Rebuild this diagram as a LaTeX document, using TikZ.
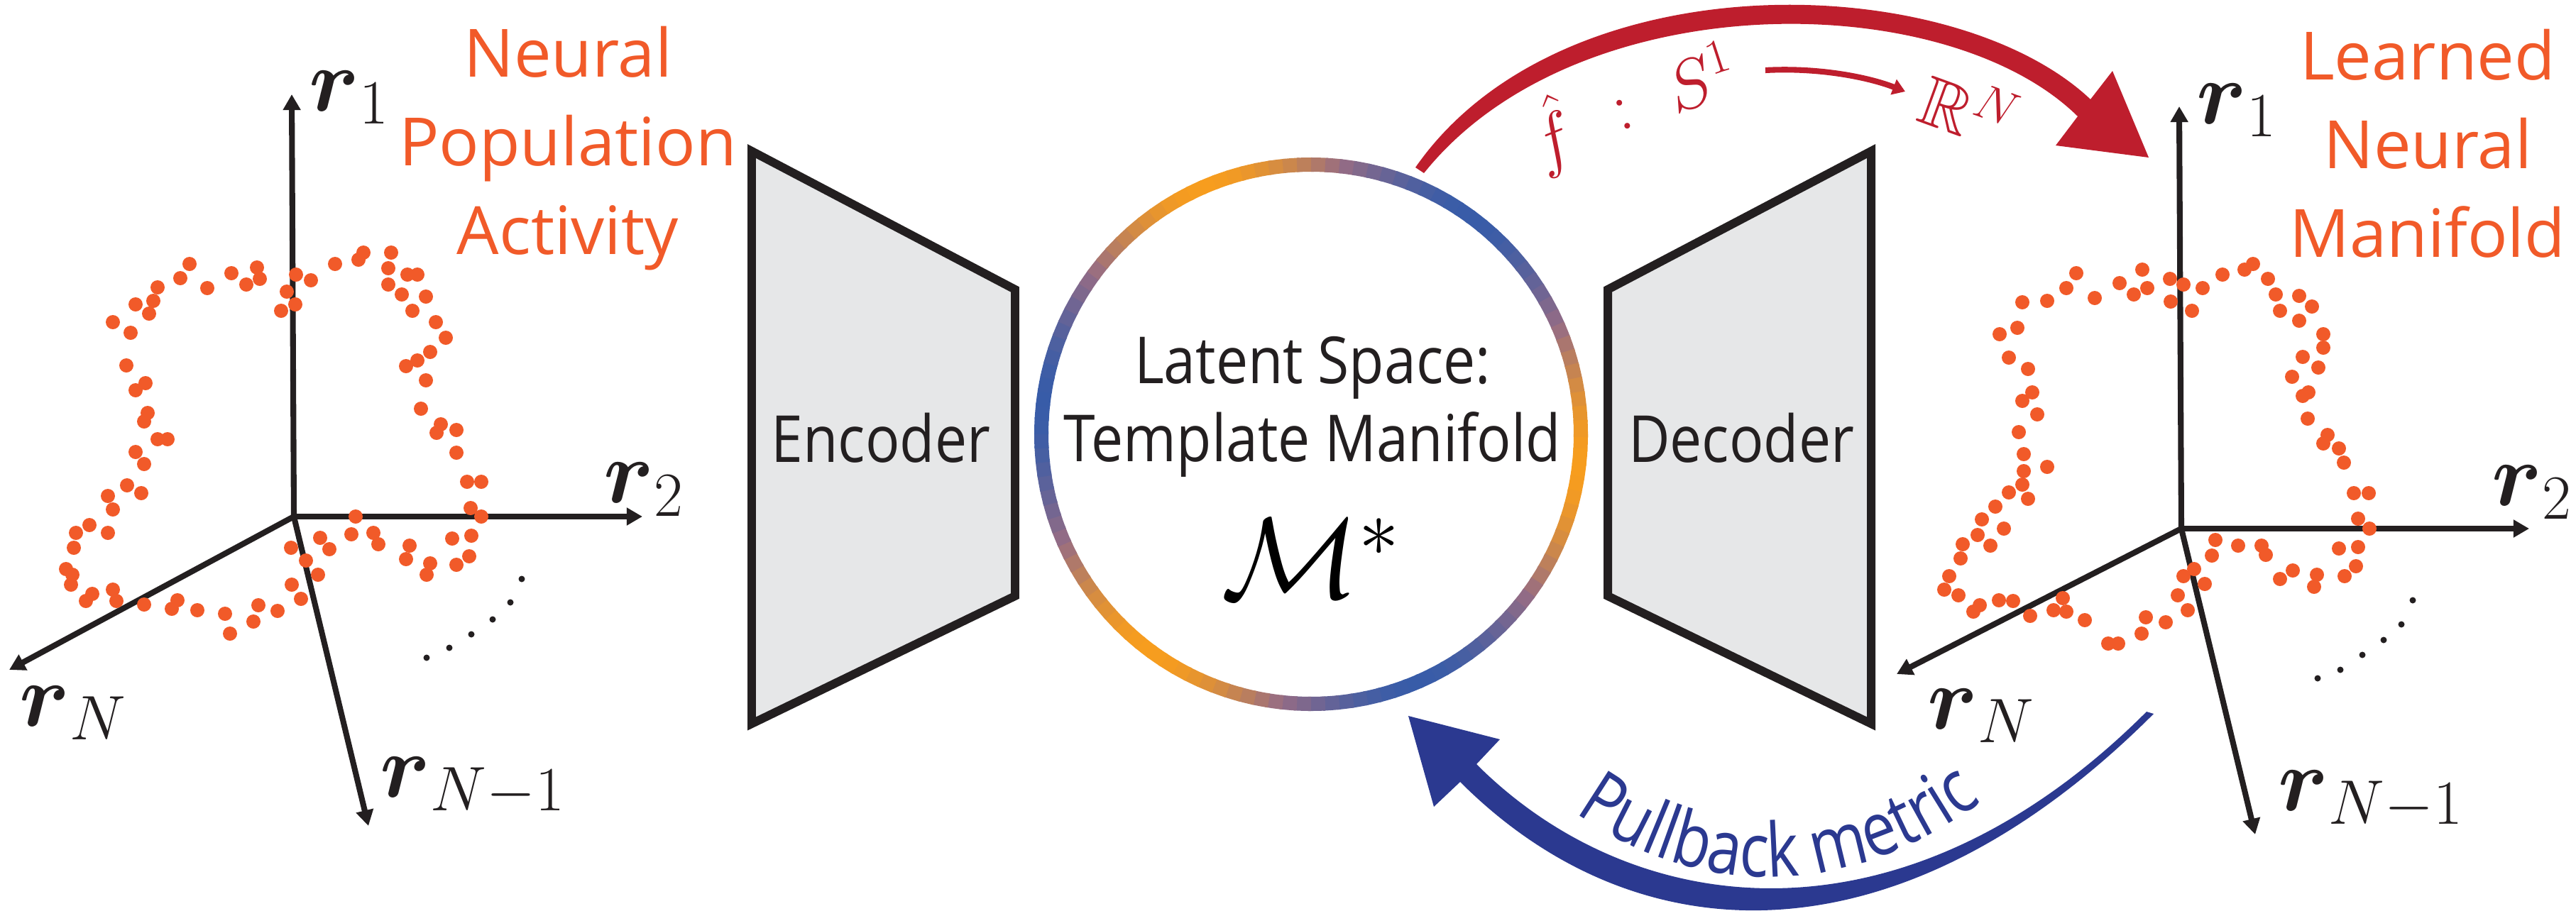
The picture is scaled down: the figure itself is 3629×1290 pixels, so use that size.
\RequirePackage{fix-cm}
\documentclass[tikz,border=0pt]{standalone}
\usepackage{amsmath,amssymb}
\usepackage[no-math]{fontspec}
\newfontfamily\labelfont{Open Sans}
\newfontfamily\condfont[FakeStretch=0.88]{Open Sans}
\newfontfamily\narrowfont[FakeStretch=0.82]{Open Sans}
\usetikzlibrary{arrows.meta}
\usetikzlibrary{calc,decorations.text}

\definecolor{ink}{RGB}{35,31,32}
\definecolor{boxgray}{RGB}{230,231,232}
\definecolor{dotorange}{RGB}{241,90,41}
\definecolor{arrred}{RGB}{190,30,45}
\definecolor{arrblue}{RGB}{43,57,144}
\definecolor{ringorange}{RGB}{247,157,30}
\definecolor{ringblue}{RGB}{56,92,168}
\definecolor{ringmauve}{RGB}{150,108,132}

\begin{document}
\begin{tikzpicture}[x=0.01cm,y=-0.01cm,
  axis/.style={draw=ink, line width=2.3pt, ->, >={Triangle[length=6.3pt,width=6.8pt]}},
  encbox/.style={draw=ink, fill=boxgray, line width=3.4pt},
  rlbl/.style={inner sep=0, anchor=base west, text=ink, font=\fontsize{36}{40}\selectfont},
  orlbl/.style={inner sep=0, anchor=north, align=center, text=dotorange, font=\labelfont\fontsize{26.7}{35.6}\selectfont},
  boxtxt/.style={inner sep=0, anchor=base, text=ink, font=\condfont\fontsize{26}{31.3}\selectfont},
  redmath/.style={inner sep=0, text=arrred, font=\fontsize{28}{32}\selectfont}]
\useasboundingbox (0,0) rectangle (3629,1290);

% left axes
\coordinate (lo) at (414,728);
\coordinate (l1) at (411,133);
\coordinate (l2) at (905,728);
\coordinate (lN) at (13,944);
\coordinate (lM) at (519,1164);
\draw[axis] (lo) -- (l1);
\draw[axis] (lo) -- (l2);
\draw[axis] (lo) -- (lN);
\draw[axis] (lo) -- (lM);
\node[rlbl] (lr1) at (435,156) {$\boldsymbol{r}_{1}$};
\node[rlbl] (lr2) at (850,708) {$\boldsymbol{r}_{2}$};
\node[rlbl] (lrN) at (27,1023) {$\boldsymbol{r}_{N}$};
\node[rlbl] (lrM) at (535,1123) {$\boldsymbol{r}_{N-1}$};
\foreach \x/\y in {601/927,633/913,664/894,694/873,719/849,735/816}
  \fill[ink] (\x,\y) circle[radius=4.5];
\foreach \x/\y in {267/372,254/392,222/405,216/424,210/442,191/429,159/454,184/469,
  178/515,205/540,191/550,208/582,203/594,222/619,236/619,191/637,203/654,179/684,
  199/695,152/699,159/718,126/740,107/751,152/751,104/772,93/802,102/810,100/824,
  121/847,130/837,159/831,164/847,203/852,242/858,250/846,278/860,317/865,324/893,
  357/876,364/853,391/861,424/844,411/824,448/810,431/790,410/772,451/758,464/774,
  495/753,501/728,526/751,533/767,577/769,572/788,601/810,606/794,637/759,664/755,
  643/796,661/784,678/728,663/716,658/679,678/679,643/638,643/606,615/610,621/598,
  593/576,600/536,572/516,588/508,606/496,628/476,614/454,600/418,581/438,566/415,
  547/401,547/378,551/356,574/387,588/387,505/366,512/356,472/372,438/395,417/387,
  404/411,416/429,396/438,366/393,362/377,347/401,326/385,292/406}
  \fill[dotorange] (\x,\y) circle[radius=10];
\node[orlbl] (poplbl) at (800,36) {Neural\\Population\\Activity};

% encoder, latent ring, decoder
\draw[encbox] (1059,213) -- (1430,408) -- (1430,840) -- (1059,1020) -- cycle;
\node[boxtxt] (enc) at (1241,651) {Encoder};
\draw[encbox] (2265,408) -- (2636,213) -- (2636,1020) -- (2265,840) -- cycle;
\node[boxtxt] (dec) at (2453,651) {Decoder};

\node[circle, minimum size=7.8cm, inner sep=0] (latent) at (1847,612) {};
\foreach \a in {0,3,...,357}{
  \pgfmathsetmacro\t{50+50*cos(3*(\a+115))}
  \ifdim\t pt>50pt
    \pgfmathsetmacro\w{2*\t-100}
    \colorlet{ringc}{ringorange!\w!ringmauve}
  \else
    \pgfmathsetmacro\w{2*\t}
    \colorlet{ringc}{ringmauve!\w!ringblue}
  \fi
  \draw[line width=5.7pt, draw=ringc] ([shift={(\a:380)}]latent.center) arc[start angle=\a, end angle=\a+3.6, radius=380];
}
\node[boxtxt, anchor=north, align=center] (latenttxt) at (1849,474) {Latent Space:\\Template Manifold};
\node[inner sep=0, anchor=base, font=\fontsize{46}{50}\selectfont] (mstar) at (1847,842) {$\mathcal{M}^{*}$};

% right axes
\coordinate (ro) at (3073,745);
\coordinate (r1) at (3070,150);
\coordinate (r2) at (3563,745);
\coordinate (rN) at (2672,950);
\coordinate (rM) at (3177,1176);
\draw[axis] (ro) -- (r1);
\draw[axis] (ro) -- (r2);
\draw[axis] (ro) -- (rN);
\draw[axis] (ro) -- (rM);
\node[rlbl] (rr1) at (3094,174) {$\boldsymbol{r}_{1}$};
\node[rlbl] (rr2) at (3510,712) {$\boldsymbol{r}_{2}$};
\node[rlbl] (rrN) at (2715,1027) {$\boldsymbol{r}_{N}$};
\node[rlbl] (rrM) at (3209,1142) {$\boldsymbol{r}_{N-1}$};
\foreach \x/\y in {3265/956,3297/944,3328/923,3358/902,3383/880,3399/846}
  \fill[ink] (\x,\y) circle[radius=4.5];
\foreach \x/\y in {2925/385,2911/406,2884/424,2849/426,2842/462,2817/471,2830/504,
  2857/520,2863/553,2849/565,2870/584,2844/609,2851/640,2884/658,2851/664,2849/683,
  2830/694,2857/703,2811/714,2792/732,2786/754,2823/745,2804/769,2765/767,2762/787,
  2746/812,2739/831,2759/839,2789/853,2780/862,2816/846,2836/847,2860/868,2893/860,
  2906/843,2911/862,2937/874,2970/907,2984/907,3017/893,3023/870,3051/877,3082/860,
  3068/839,3076/812,3106/823,3091/802,3116/783,3121/761,3153/769,3186/769,3192/782,
  3212/816,3230/804,3260/827,3264/810,3303/812,3319/798,3295/773,3322/771,3338/745,
  3322/731,3316/695,3337/695,3302/652,3295/632,3273/625,3279/613,3251/590,3244/558,
  3252/553,3229/531,3244/503,3266/518,3273/490,3273/471,3239/452,3257/432,3239/417,
  3212/438,3206/415,3195/393,3174/372,3162/380,3131/387,3103/406,3076/401,3057/393,
  3058/425,3088/438,3025/406,3006/415,3018/380,2986/399,2951/420}
  \fill[dotorange] (\x,\y) circle[radius=10];
\node[orlbl] (mfdlbl) at (3420,40) {Learned\\Neural\\Manifold};

% decoder map f
\coordinate (redtail) at (2000,240);
\coordinate (redtip) at (3027,222);
\fill[arrred] (1994,236) .. controls (2200,-60) and (2750,-44) .. (2945,140)
  -- (2976,100) -- (redtip) -- (2896,205) -- (2927,164)
  .. controls (2740,-20) and (2220,-23) .. (2006,244) -- cycle;
\node[redmath, rotate=22] (fhat) at (2186,192) {$\hat{f}$};
\node[redmath, rotate=19] (colon) at (2287,161) {$:$};
\node[redmath, rotate=18] (sone) at (2395,107) {$S^{1}$};
\node[redmath, rotate=-20] (rn) at (2775,154) {$\mathbb{R}^{N}$};
\coordinate (mapfrom) at (2487,99);
\coordinate (mapto) at (2684,129);
\draw[arrred, line width=2.3pt, -{Triangle[length=5pt,width=6.3pt]}] (mapfrom) .. controls (2560,95) and (2630,108) .. (mapto);

% pullback
\coordinate (bluetail) at (3029,1005);
\coordinate (bluetip) at (1984,1009);
\fill[arrblue] (3034,1006) .. controls (2676,1364) and (2307,1352) .. (2057,1102)
  -- (2020,1137) -- (bluetip) -- (2113,1042) -- (2080,1077)
  .. controls (2300,1297) and (2679,1348) .. (3024,1003) -- cycle;
\path[decorate, decoration={text along path, text align=center, text color=arrblue,
  text={|\narrowfont\fontsize{30}{32}\selectfont|Pullback metric}}]
  (2140,1078) .. controls (2353,1293) and (2643,1289) .. (2870,1062);
\end{tikzpicture}
\end{document}
